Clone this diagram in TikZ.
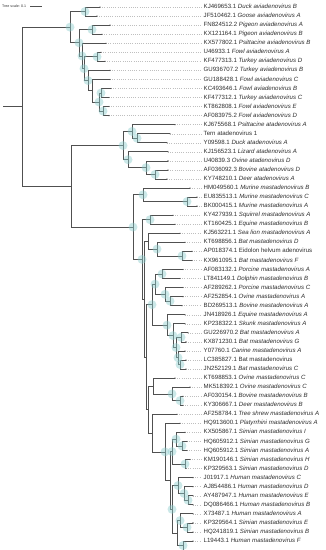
\documentclass[tikz,border=0pt]{standalone}
\usepackage{fontspec}
\setmainfont{Liberation Sans}
\definecolor{brc}{RGB}{80,80,80}
\definecolor{bubc}{RGB}{140,205,205}
\definecolor{txc}{RGB}{45,45,45}
\begin{document}
\begin{tikzpicture}[x=1pt,y=-1pt,
 br/.style={draw=brc, line width=0.65pt},
 lead/.style={draw=gray!50, line width=0.35pt, dash pattern=on 0.6pt off 1.6pt},
 lab/.style={anchor=west, inner sep=0pt, text height=4.4pt, text depth=1.2pt, font=\fontsize{6.1}{7}\selectfont, text=txc},
 bub/.style={circle, fill=bubc, fill opacity=0.45, minimum size=9pt, inner sep=0pt},
 tipdot/.style={circle, fill=brc, minimum size=1.3pt, inner sep=0pt}]
\useasboundingbox (0,0) rectangle (325,550);
% scale
\node[anchor=west, inner sep=0pt, font=\fontsize{3.6}{4}\selectfont, text=txc] (ts) at (2,6) {Tree scale: 0.1};
\coordinate (sb1) at (30,6); \coordinate (sb2) at (42,6);
\draw[brc, line width=0.4pt] (sb1) -- (sb2);
% leaves
\foreach \i/\tx/\lab in {
1/100/{KJ469653.1 \textit{Duck aviadenovirus B}},
2/97/{JF510462.1 \textit{Goose aviadenovirus A}},
3/110/{FN824512.2 \textit{Pigeon aviadenovirus A}},
4/102/{KX121164.1 \textit{Pigeon aviadenovirus B}},
5/106/{KX577802.1 \textit{Psittacine aviadenovirus B}},
6/101/{U46933.1 \textit{Fowl aviadenovirus A}},
7/105/{KF477313.1 \textit{Turkey aviadenovirus D}},
8/110/{GU936707.2 \textit{Turkey aviadenovirus B}},
9/110/{GU188428.1 \textit{Fowl aviadenovirus C}},
10/111/{KC493646.1 \textit{Fowl aviadenovirus B}},
11/109/{KF477312.1 \textit{Turkey aviadenovirus C}},
12/109/{KT862808.1 \textit{Fowl aviadenovirus E}},
13/109/{AF083975.2 \textit{Fowl aviadenovirus D}},
14/175/{KJ675568.1 \textit{Psittacine atadenovirus A}},
15/170/{Tern atadenovirus 1},
16/167/{Y09598.1 \textit{Duck atadenovirus A}},
17/168/{KJ156523.1 \textit{Lizard atadenovirus A}},
18/168/{U40839.3 \textit{Ovine atadenovirus D}},
19/168/{AF036092.3 \textit{Bovine atadenovirus D}},
20/167/{KY748210.1 \textit{Deer atadenovirus A}},
21/190/{HM049560.1 \textit{Murine mastadenovirus B}},
22/197/{EU835513.1 \textit{Murine mastadenovirus C}},
23/197/{BK000415.1 \textit{Murine mastadenovirus A}},
24/173/{KY427939.1 \textit{Squirrel mastadenovirus A}},
25/175/{KT160425.1 \textit{Equine mastadenovirus B}},
26/180/{KJ563221.1 \textit{Sea lion mastadenovirus A}},
27/185/{KT698856.1 \textit{Bat mastadenovirus D}},
28/192/{AP018374.1 Eidolon helvum adenovirus},
29/192/{KX961095.1 \textit{Bat mastadenovirus F}},
30/183/{AF083132.1 \textit{Porcine mastadenovirus A}},
31/180/{LT841149.1 \textit{Dolphin mastadenovirus B}},
32/183/{AF289262.1 \textit{Porcine mastadenovirus C}},
33/183/{AF252854.1 \textit{Ovine mastadenovirus A}},
34/182/{BD269513.1 \textit{Bovine mastadenovirus A}},
35/185/{JN418926.1 \textit{Equine mastadenovirus A}},
36/185/{KP238322.1 \textit{Skunk mastadenovirus A}},
37/188/{GU226970.2 \textit{Bat mastadenovirus A}},
38/186/{KX871230.1 \textit{Bat mastadenovirus G}},
39/185/{Y07760.1 \textit{Canine mastadenovirus A}},
40/186/{LC385827.1 Bat mastadenovirus},
41/186/{JN252129.1 \textit{Bat mastadenovirus C}},
42/175/{KT698853.1 \textit{Ovine mastadenovirus C}},
43/190/{MK518392.1 \textit{Ovine mastadenovirus C}},
44/183/{AF030154.1 \textit{Bovine mastadenovirus B}},
45/183/{KY306667.1 \textit{Deer mastadenovirus B}},
46/177/{AF258784.1 \textit{Tree shrew mastadenovirus A}},
47/180/{HQ913600.1 \textit{Platyrrhini mastadenovirus A}},
48/185/{KX505867.1 \textit{Simian mastadenovirus I}},
49/187/{HQ605912.1 \textit{Simian mastadenovirus G}},
50/187/{HQ605912.1 \textit{Simian mastadenovirus A}},
51/190/{KM190146.1 \textit{Simian mastadenovirus H}},
52/186/{KP329563.1 \textit{Simian mastadenovirus D}},
53/193/{J01917.1 \textit{Human mastadenovirus C}},
54/193/{AJ854486.1 \textit{Human mastadenovirus D}},
55/193/{AY487947.1 \textit{Human mastadenovirus E}},
56/193/{DQ086466.1 \textit{Human mastadenovirus B}},
57/193/{X73487.1 \textit{Human mastadenovirus A}},
58/193/{KP329564.1 \textit{Simian mastadenovirus E}},
59/193/{HQ241819.1 \textit{Simian mastadenovirus B}},
60/193/{L19443.1 \textit{Human mastadenovirus F}}}{
 \pgfmathsetmacro\yy{7+9.05*(\i-1)}
 \coordinate (t\i) at (\tx,\yy);
 \node[lab] (l\i) at (203.5,\yy) {\lab};
 \draw[lead] (t\i) -- ([xshift=-2pt]l\i.west);
}
% internal nodes
\coordinate (R0) at (3,106.74);
\coordinate (R) at (22,106.74);
\coordinate (A) at (70,27.15);
\coordinate (A1) at (85,11.525);
\coordinate (A2) at (79,42.775);
\coordinate (A21) at (92,29.625);
\coordinate (A22) at (82,55.925);
\coordinate (A23) at (84,68.65);
\coordinate (A67) at (97,56.775);
\coordinate (A824) at (88,80.53);
\coordinate (A913) at (92,90.71);
\coordinate (A1013) at (99,102.025);
\coordinate (A1011) at (101,92.975);
\coordinate (A1213) at (103,111.075);
\coordinate (B) at (71,186.33);
\coordinate (At) at (123,145.58);
\coordinate (At1) at (132,131.44);
\coordinate (N1516) at (137,138.225);
\coordinate (At2) at (128,159.72);
\coordinate (N1820) at (146,167.64);
\coordinate (N1920) at (155,174.425);
\coordinate (M) at (133,227.09);
\coordinate (M1) at (143,194.79);
\coordinate (N2223) at (187,201.575);
\coordinate (M2) at (142,259.40);
\coordinate (N2425) at (150,219.675);
\coordinate (M3) at (144,299.13);
\coordinate (N2629) at (148,241.17);
\coordinate (N2729) at (157,249.09);
\coordinate (N2829) at (182,255.875);
\coordinate (M4) at (146,357.09);
\coordinate (N3041) at (152,304.66);
\coordinate (N3034) at (155,284.16);
\coordinate (N3031) at (162,273.975);
\coordinate (N3234) at (165,294.34);
\coordinate (N3334) at (170,301.125);
\coordinate (N3541) at (167,325.16);
\coordinate (N3641) at (173,335.63);
\coordinate (N3741) at (176,347.51);
\coordinate (N3738) at (181,337.325);
\coordinate (N3941) at (178,357.69);
\coordinate (N4041) at (180,364.475);
\coordinate (M5) at (148,409.52);
\coordinate (N4245) at (153,385.97);
\coordinate (N4345) at (172,393.89);
\coordinate (N4445) at (180,400.675);
\coordinate (P1) at (152,433.06);
\coordinate (P2) at (165,451.87);
\coordinate (P3) at (170,480.43);
\coordinate (N4852) at (172,451.58);
\coordinate (N4850) at (176,439.14);
\coordinate (N4950) at (182,445.925);
\coordinate (N5152) at (185,464.025);
\coordinate (N5360) at (172,509.28);
\coordinate (N5356) at (178,485.52);
\coordinate (N5456) at (184,493.44);
\coordinate (N5556) at (188,500.225);
\coordinate (N5760) at (177,533.04);
\coordinate (N5759) at (180,520.59);
\coordinate (N5859) at (187,527.375);
\coordinate (N60x) at (183,545.5);
\coordinate (Cut) at (183,550);
% branches
\draw[br] (R0) -- (R);
\foreach \p/\c in {R/A,R/B,A/A1,A/A2,A1/t1,A1/t2,A2/A21,A2/A22,A21/t3,A21/t4,
 A22/t5,A22/A23,A23/A67,A23/A824,A67/t6,A67/t7,A824/t8,A824/A913,A913/t9,A913/A1013,
 A1013/A1011,A1013/A1213,A1011/t10,A1011/t11,A1213/t12,A1213/t13,
 B/At,B/M,At/At1,At/At2,At1/t14,At1/N1516,N1516/t15,N1516/t16,At2/t17,At2/N1820,
 N1820/t18,N1820/N1920,N1920/t19,N1920/t20,
 M/M1,M/M2,M1/t21,M1/N2223,N2223/t22,N2223/t23,M2/N2425,M2/M3,N2425/t24,N2425/t25,
 M3/N2629,M3/M4,N2629/t26,N2629/N2729,N2729/t27,N2729/N2829,N2829/t28,N2829/t29,
 M4/N3041,M4/M5,N3041/N3034,N3041/N3541,N3034/N3031,N3034/N3234,N3031/t30,N3031/t31,
 N3234/t32,N3234/N3334,N3334/t33,N3334/t34,N3541/t35,N3541/N3641,N3641/t36,N3641/N3741,
 N3741/N3738,N3741/N3941,N3738/t37,N3738/t38,N3941/t39,N3941/N4041,N4041/t40,N4041/t41,
 M5/N4245,M5/P1,N4245/t42,N4245/N4345,N4345/t43,N4345/N4445,N4445/t44,N4445/t45,
 P1/t46,P1/P2,P2/t47,P2/P3,P3/N4852,P3/N5360,N4852/N4850,N4852/N5152,N4850/t48,N4850/N4950,
 N4950/t49,N4950/t50,N5152/t51,N5152/t52,N5360/N5356,N5360/N5760,N5356/t53,N5356/N5456,
 N5456/t54,N5456/N5556,N5556/t55,N5556/t56,N5760/N5759,N5760/N60x,N5759/t57,N5759/N5859,
 N5859/t58,N5859/t59,N60x/t60,N60x/Cut}{
 \draw[br] (\p) |- (\c);
}
% tip dots
\foreach \i in {1,...,60}{\node[tipdot] (d\i) at (t\i) {};}
% support bubbles
\foreach \n in {A,A1,A2,A21,A22,A23,A67,A824,A1011,A1213,A1013,At,At1,N1516,At2,N1820,N1920,
 M,M1,N2223,M2,N2425,N2729,N2829,N3031,N3034,N3234,N3334,N3041,N3541,N3641,N3741,N3738,
 N3941,N4041,N4345,N4445,P2,N4850,N4950,N4852,N5152,N5356,N5456,N5556,N5360,N5759,N5859,N60x}{
 \node[bub] (b\n) at (\n) {};
}
\end{tikzpicture}
\end{document}
